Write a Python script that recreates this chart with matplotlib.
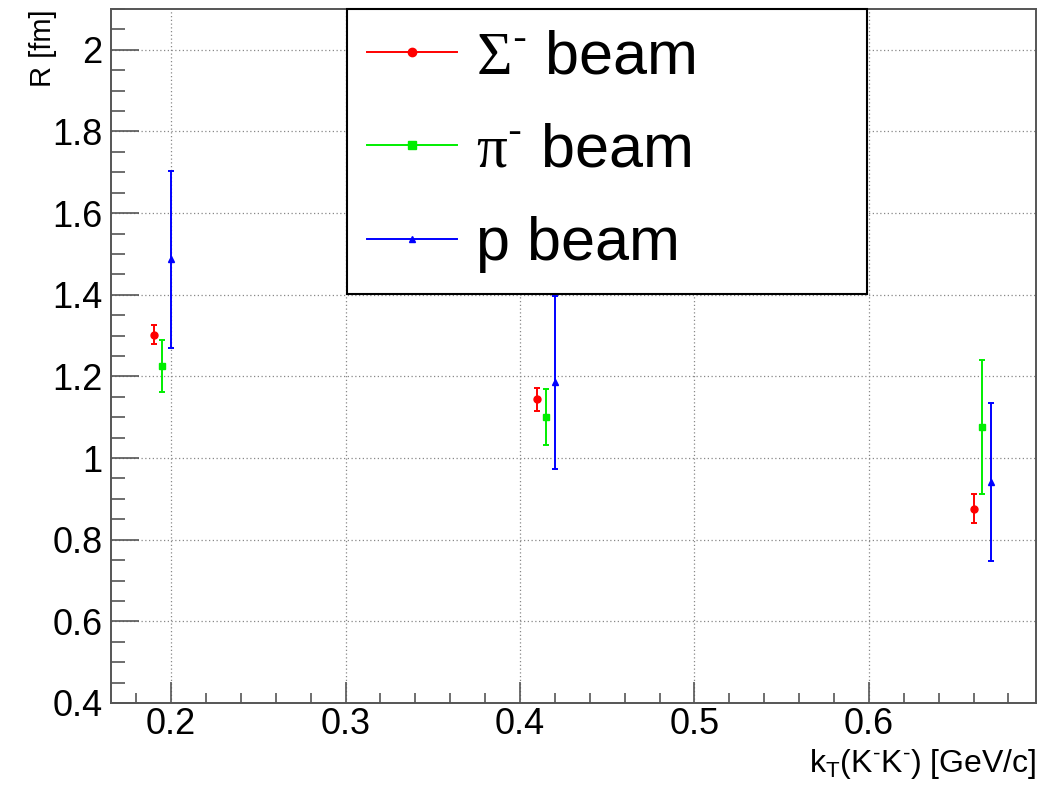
import matplotlib
matplotlib.use("Agg")
import matplotlib.pyplot as plt
from matplotlib.lines import Line2D
from matplotlib.ticker import MultipleLocator, FormatStrFormatter

plt.rcParams['font.family'] = ['Liberation Sans', 'DejaVu Sans']
plt.rcParams['mathtext.fontset'] = 'custom'
plt.rcParams['mathtext.rm'] = 'Liberation Sans'
plt.rcParams['mathtext.it'] = 'Liberation Sans:italic'
plt.rcParams['mathtext.sf'] = 'Liberation Serif'

# k_T values (GeV/c) and source radius R (fm) with errors
kt_sigma = [0.19, 0.41, 0.66]
r_sigma = [1.302, 1.144, 0.876]
err_sigma = [0.023, 0.028, 0.036]

kt_pi = [0.195, 0.415, 0.665]
r_pi = [1.225, 1.101, 1.075]
err_pi = [0.064, 0.068, 0.164]

kt_p = [0.20, 0.42, 0.67]
r_p = [1.487, 1.186, 0.942]
err_p = [0.217, 0.212, 0.193]

labels = [r"$\mathsf{\Sigma}^{\text{-}}$ beam", r"$\mathsf{\pi}^{\text{-}}$ beam", "p beam"]
cols = ["#ff0000", "#00ee00", "#0000ff"]
marks = ["o", "s", "^"]
msizes = [5, 4.5, 4]

fig = plt.figure(figsize=(10.5, 7.89), dpi=100)
ax = fig.add_axes([0.1057, 0.109, 0.881, 0.8796])

series = [(kt_sigma, r_sigma, err_sigma), (kt_pi, r_pi, err_pi), (kt_p, r_p, err_p)]
for (x, y, e), c, m, ms in zip(series, cols, marks, msizes):
    ax.errorbar(x, y, yerr=e, fmt=m, color=c, ms=ms, elinewidth=1.4,
                capsize=2.5, capthick=1.4, zorder=3)

ax.set_xlim(0.1655, 0.6958)
ax.set_ylim(0.4, 2.1)

ax.xaxis.set_major_locator(MultipleLocator(0.1))
ax.xaxis.set_minor_locator(MultipleLocator(0.02))
ax.yaxis.set_major_locator(MultipleLocator(0.2))
ax.yaxis.set_minor_locator(MultipleLocator(0.05))
ax.xaxis.set_major_formatter(FormatStrFormatter('%g'))
ax.yaxis.set_major_formatter(FormatStrFormatter('%g'))

ax.tick_params(which='both', direction='in', color='#555555', width=1.2,
               top=False, right=False, labelsize=26)
ax.tick_params(axis='x', which='major', length=15, pad=3)
ax.tick_params(axis='x', which='minor', length=7)
ax.tick_params(axis='y', which='major', length=20, pad=6)
ax.tick_params(axis='y', which='minor', length=10)

for s in ax.spines.values():
    s.set_color('#555555')
    s.set_linewidth(1.4)

ax.grid(True, which='major', color='#888888', linestyle=(0, (1, 2)), linewidth=0.9)
ax.set_axisbelow(True)

ax.set_xlabel(r"k$_{\mathrm{T}}$(K$^{\text{-}}$K$^{\text{-}}$) [GeV/c]", fontsize=23, loc='right')
ax.xaxis.set_label_coords(1.0, -0.064)
ax.set_ylabel("R [fm]", fontsize=21, loc='top')
ax.yaxis.set_label_coords(-0.058, 1.0)

handles = [Line2D([], [], color=c, marker=m, ms=ms + 1, lw=1.4)
           for c, m, ms in zip(cols, marks, msizes)]
leg = ax.legend(handles, labels, loc='upper left', bbox_to_anchor=(0.255, 0.595, 0.562, 0.405),
                mode='expand', borderaxespad=0, fontsize=44, frameon=True, fancybox=False,
                handlelength=1.48, handletextpad=0.3, borderpad=0.33, labelspacing=0.6)
leg.get_frame().set_edgecolor('black')
leg.get_frame().set_linewidth(1.5)
leg.get_frame().set_alpha(1)

fig.savefig("out.png", dpi=100)
